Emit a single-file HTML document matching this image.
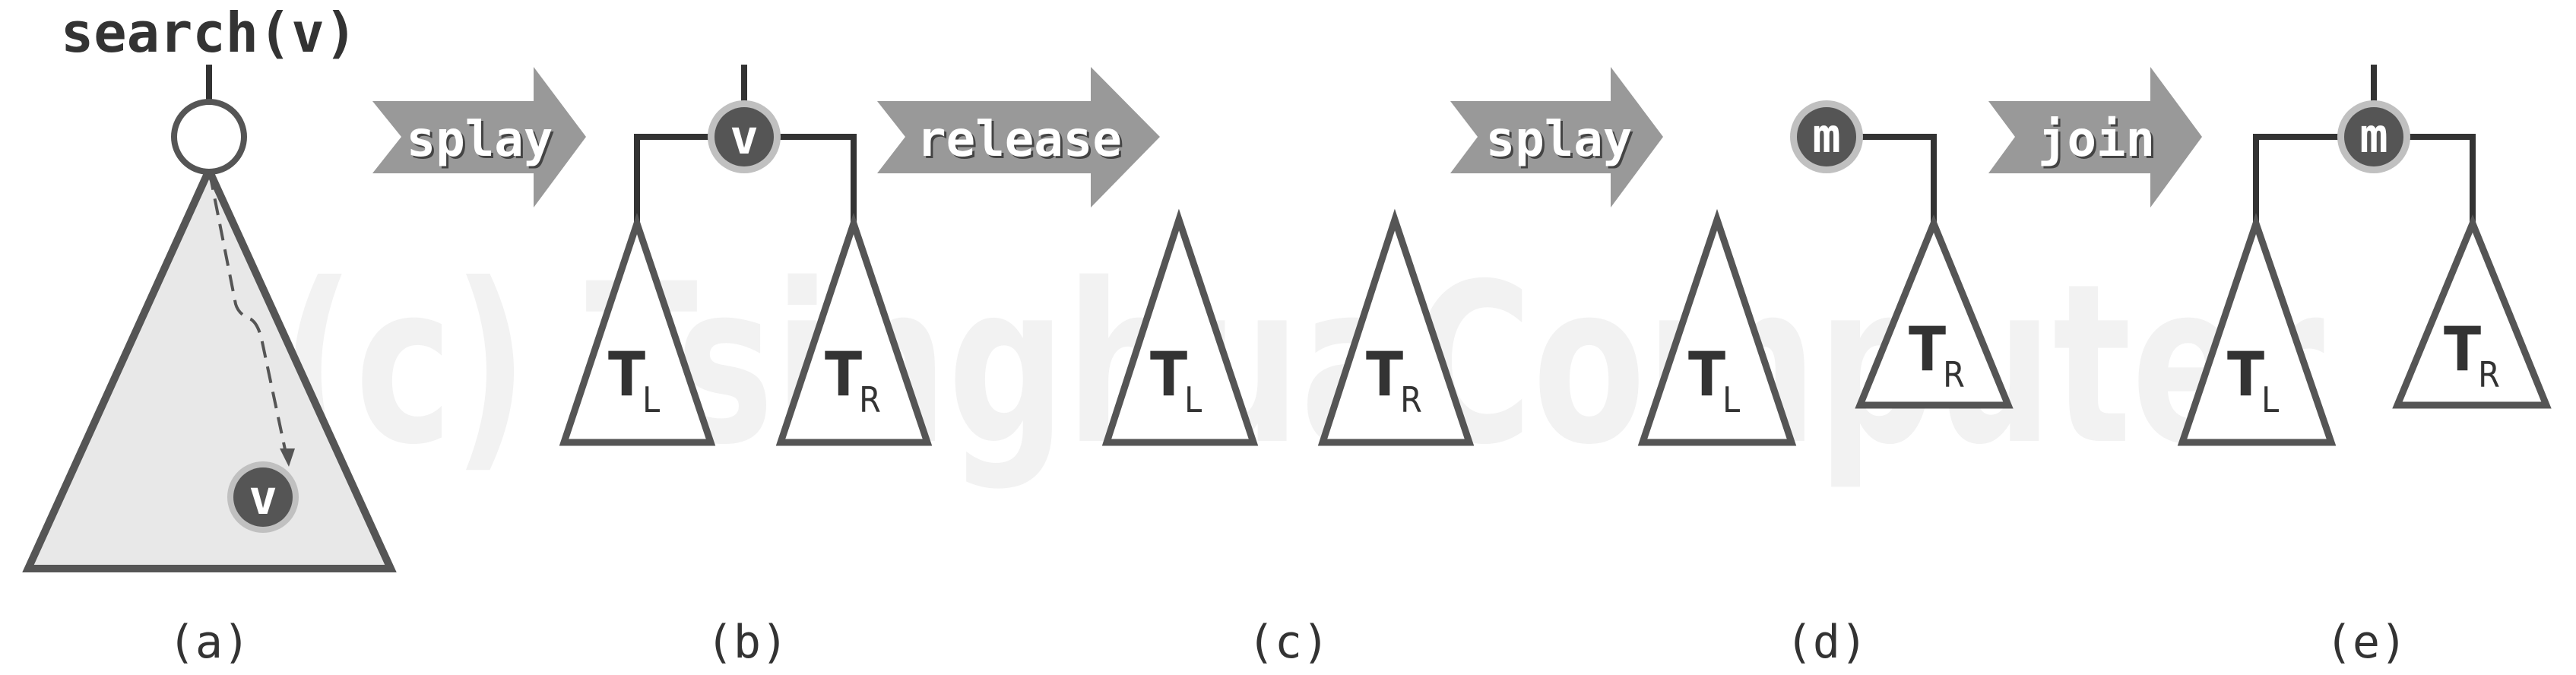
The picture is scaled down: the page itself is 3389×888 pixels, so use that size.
<!DOCTYPE html>
<html><head><meta charset="utf-8"><style>html,body{margin:0;padding:0;background:#fff}svg{display:block}</style></head>
<body>
<svg width="3389" height="888" viewBox="0 0 3389 888" xmlns="http://www.w3.org/2000/svg">
<!-- watermark -->
<text x="368" y="580" font-family="DejaVu Sans, sans-serif" font-weight="bold" font-size="290" fill="#f2f2f2" textLength="2690" lengthAdjust="spacingAndGlyphs">(c) TsinghuaComputer</text>

<g font-family="DejaVu Sans Mono, Liberation Mono, monospace" fill="#333">
<text x="275" y="68" font-size="72" font-weight="bold" text-anchor="middle">search(v)</text>
<text x="275" y="865" font-size="60" text-anchor="middle">(a)</text>
<text x="983" y="865" font-size="60" text-anchor="middle">(b)</text>
<text x="1695" y="865" font-size="60" text-anchor="middle">(c)</text>
<text x="2403" y="865" font-size="60" text-anchor="middle">(d)</text>
<text x="3113" y="865" font-size="60" text-anchor="middle">(e)</text>
</g>

<!-- (a) -->
<line x1="275" y1="85" x2="275" y2="134" stroke="#333" stroke-width="8"/>
<polygon points="275,224 37,748 514,748" fill="#e8e8e8" stroke="#555" stroke-width="10"/>
<circle cx="275" cy="180" r="46" fill="#fff" stroke="#555" stroke-width="8"/>
<path d="M276,228 L310,400 Q314,414 330,420 Q340,426 345,450 L376,596" fill="none" stroke="#555" stroke-width="4" stroke-dasharray="22,12"/>
<polygon points="368,590 388,590 380,614" fill="#555"/>
<circle cx="346" cy="654" r="47" fill="#c0c0c0"/>
<circle cx="346" cy="654" r="39" fill="#555"/>
<text x="346" y="676" font-family="DejaVu Sans Mono, monospace" font-weight="bold" font-size="62" fill="#fff" text-anchor="middle">v</text>

<!-- arrows -->
<g fill="#999">
<polygon points="490,133 702,133 702,88 771,180 702,273 702,228 490,228 528,180"/>
<polygon points="1154,133 1435,133 1435,88 1526,180 1435,273 1435,228 1154,228 1191,180"/>
<polygon points="1908,133 2119,133 2119,88 2188,180 2119,273 2119,228 1908,228 1944,180"/>
<polygon points="2616,133 2829,133 2829,88 2897,180 2829,273 2829,228 2616,228 2651,180"/>
</g>
<g font-family="DejaVu Sans Mono, monospace" font-weight="bold" font-size="64" text-anchor="middle">
<text x="634" y="208" fill="#444">splay</text><text x="631" y="205" fill="#fff">splay</text>
<text x="1344" y="208" fill="#444">release</text><text x="1341" y="205" fill="#fff">release</text>
<text x="2054" y="208" fill="#444">splay</text><text x="2051" y="205" fill="#fff">splay</text>
<text x="2761" y="208" fill="#444">join</text><text x="2758" y="205" fill="#fff">join</text>
</g>

<!-- connectors -->
<g stroke="#333" stroke-width="8" fill="none">
<line x1="979" y1="85" x2="979" y2="134"/>
<polyline points="838,294 838,180 1123,180 1123,294"/>
<polyline points="2403,180 2544,180 2544,294"/>
<line x1="3123" y1="85" x2="3123" y2="134"/>
<polyline points="2968,294 2968,180 3253,180 3253,294"/>
</g>

<!-- triangles -->
<g fill="#fff" stroke="#555" stroke-width="9">
<polygon points="838,294 742,582 935,582"/>
<polygon points="1123,294 1027,582 1220,582"/>
<polygon points="1551,289 1456,582 1649,582"/>
<polygon points="1835,289 1740,582 1933,582"/>
<polygon points="2259,289 2161,582 2357,582"/>
<polygon points="2544,294 2447,533 2642,533"/>
<polygon points="2968,294 2871,582 3067,582"/>
<polygon points="3253,294 3154,533 3350,533"/>
</g>

<!-- nodes -->
<g>
<circle cx="979" cy="180" r="48" fill="#c0c0c0"/><circle cx="979" cy="180" r="39" fill="#555"/>
<circle cx="2403" cy="180" r="48" fill="#c0c0c0"/><circle cx="2403" cy="180" r="39" fill="#555"/>
<circle cx="3123" cy="180" r="48" fill="#c0c0c0"/><circle cx="3123" cy="180" r="39" fill="#555"/>
</g>
<g font-family="DejaVu Sans Mono, monospace" font-weight="bold" font-size="62" fill="#fff" text-anchor="middle">
<text x="979" y="202">v</text>
<text x="2403" y="200">m</text>
<text x="3123" y="200">m</text>
</g>

<!-- T labels -->
<g font-family="DejaVu Sans Condensed, DejaVu Sans, sans-serif" fill="#333">
<text x="800" y="520" font-size="80" font-weight="bold">T<tspan font-size="46" font-weight="normal" dy="22" dx="-4">L</tspan></text>
<text x="1085" y="520" font-size="80" font-weight="bold">T<tspan font-size="46" font-weight="normal" dy="22" dx="-4">R</tspan></text>
<text x="1513" y="520" font-size="80" font-weight="bold">T<tspan font-size="46" font-weight="normal" dy="22" dx="-4">L</tspan></text>
<text x="1797" y="520" font-size="80" font-weight="bold">T<tspan font-size="46" font-weight="normal" dy="22" dx="-4">R</tspan></text>
<text x="2221" y="520" font-size="80" font-weight="bold">T<tspan font-size="46" font-weight="normal" dy="22" dx="-4">L</tspan></text>
<text x="2511" y="487" font-size="80" font-weight="bold">T<tspan font-size="46" font-weight="normal" dy="22" dx="-4">R</tspan></text>
<text x="2930" y="520" font-size="80" font-weight="bold">T<tspan font-size="46" font-weight="normal" dy="22" dx="-4">L</tspan></text>
<text x="3215" y="487" font-size="80" font-weight="bold">T<tspan font-size="46" font-weight="normal" dy="22" dx="-4">R</tspan></text>
</g>
</svg>
</body></html>
